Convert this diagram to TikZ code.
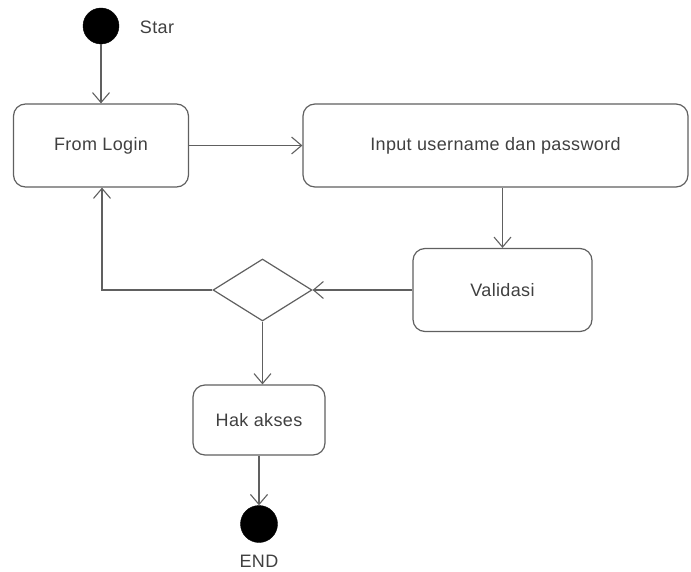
\documentclass[tikz,border=0pt]{standalone}
\usepackage{fontspec}
\setmainfont{Liberation Sans}[LetterSpace=2]
\usetikzlibrary{arrows.meta,shapes.geometric}
\definecolor{ln}{HTML}{606060}
\definecolor{tx}{HTML}{404040}
\begin{document}
\begin{tikzpicture}[x=1pt,y=-1pt,
  act/.style={draw=ln,line width=1.2pt,rounded corners=12pt,fill=white,inner sep=0pt,font=\fontsize{18}{21}\selectfont,text=tx},
  dot/.style={circle,fill=black,draw=black,minimum size=36pt,inner sep=0pt},
  flow/.style={draw=ln,line width=1.2pt,-{Straight Barb[length=10pt,width=17pt,line width=1.1pt]}},
  lbl/.style={font=\fontsize{18}{21}\selectfont,text=tx,inner sep=0pt}]
\useasboundingbox (0,0) rectangle (691,572);
\node[dot] (start) at (101,26) {};
\node[lbl] (startl) at (157,27) {Star};
\node[act,minimum width=175pt,minimum height=83pt] (login) at (101,145.5) {From Login};
\node[act,minimum width=385pt,minimum height=83pt] (input) at (495.5,145.5) {Input username dan password};
\node[act,minimum width=179pt,minimum height=83pt] (valid) at (502.5,290) {Validasi};
\node[diamond,draw=ln,line width=1.2pt,fill=white,minimum width=99pt,minimum height=62pt,inner sep=0pt] (dec) at (262.5,290) {};
\node[act,minimum width=132pt,minimum height=70pt] (hak) at (259,420) {Hak akses};
\node[dot,minimum size=37pt] (end) at (259,524) {};
\node[lbl] (endl) at (259,561) {END};
\coordinate (corner) at (102,290);
\draw[flow] (start) -- (login);
\draw[flow] (login.east) -- (input.west);
\draw[flow] (input.south -| valid) -- (valid.north);
\draw[flow] (valid.west) -- (dec.east);
\draw[flow] (dec.west) -- (corner) -- (login.south -| corner);
\draw[flow] (dec.south) -- (dec.south |- hak.north);
\draw[flow] (hak.south) -- (end.north);
\end{tikzpicture}
\end{document}
